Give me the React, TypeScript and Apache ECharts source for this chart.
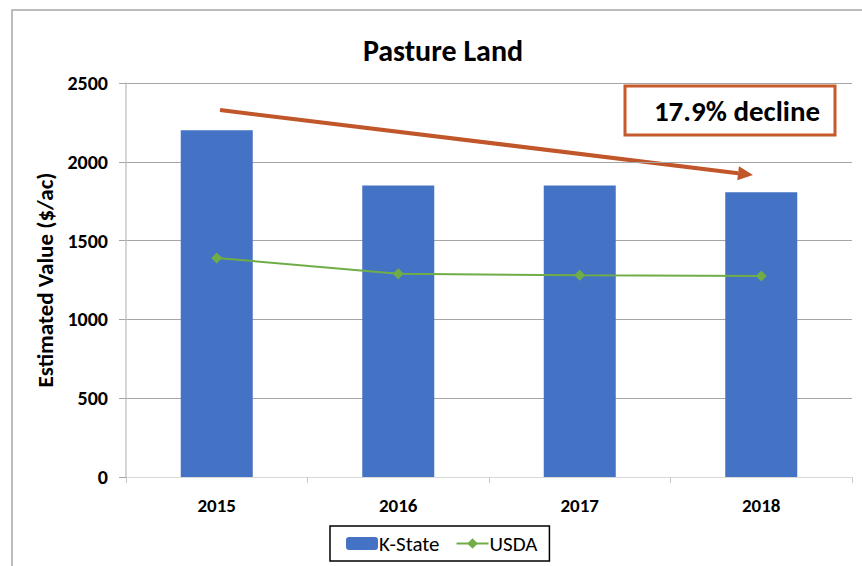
import React, { useEffect, useRef } from "react";
import * as echarts from "echarts";

const categories = ["2015", "2016", "2017", "2018"];
const kStateValues = [2200, 1850, 1850, 1806];
const usdaValues = [1390, 1290, 1280, 1275];
const yTicks = [0, 500, 1000, 1500, 2000, 2500];

const FONT = "Carlito, 'Liberation Sans Narrow', 'Open Sans', sans-serif";

export default function App() {
  const ref = useRef<HTMLDivElement>(null);
  useEffect(() => {
    if (!ref.current) return;
    const chart = echarts.init(ref.current, null, { renderer: "svg" });
    const sx = 220, sy = 110, tx = 753, ty = 175;
    const dx = tx - sx, dy = ty - sy;
    const len = Math.sqrt(dx * dx + dy * dy);
    const ux = dx / len, uy = dy / len;
    const nx = -uy, ny = ux;
    const headL = 15, headW = 7;
    const bx = tx - headL * ux, by = ty - headL * uy;
    chart.setOption({
      animation: false,
      backgroundColor: "#ffffff",
      title: {
        text: "Pasture Land",
        left: 438,
        top: 30,
        textAlign: "center",
        textStyle: { fontFamily: FONT, fontSize: 30, fontWeight: "bold", color: "#000" },
      },
      grid: { left: 126, right: 10, top: 83, bottom: 89, containLabel: false },
      legend: {
        bottom: 5,
        left: 330,
        data: ["K-State", "USDA"],
        borderColor: "#000",
        borderWidth: 1.5,
        padding: [7, 12, 7, 16],
        itemGap: 16,
        itemWidth: 32,
        itemHeight: 13,
        textStyle: { fontFamily: FONT, fontSize: 21, color: "#000", padding: [0, 0, 0, -4] },
      },
      xAxis: {
        type: "category",
        data: categories,
        axisLine: { show: true, lineStyle: { color: "#d9d9d9", width: 1 } },
        axisTick: { show: true, alignWithLabel: false, length: 6, lineStyle: { color: "#c8c8c8" } },
        axisLabel: { fontFamily: FONT, fontSize: 19, fontWeight: "bold", color: "#000", margin: 19 },
      },
      yAxis: {
        type: "value",
        min: 0,
        max: yTicks[yTicks.length - 1],
        interval: 500,
        name: "Estimated Value ($/ac)",
        nameLocation: "middle",
        nameGap: 64,
        nameTextStyle: { fontFamily: FONT, fontSize: 23, fontWeight: "bold", color: "#000" },
        axisLine: { show: true, lineStyle: { color: "#c8c8c8", width: 1.5 } },
        axisTick: { show: true, length: 7, lineStyle: { color: "#a6a6a6" } },
        splitLine: { show: true, lineStyle: { color: "#a6a6a6", width: 1 } },
        axisLabel: {
          fontFamily: FONT,
          fontSize: 20,
          fontWeight: "bold",
          color: "#000",
          margin: 18,
          formatter: (v: number) => String(v),
        },
      },
      series: [
        {
          name: "K-State",
          type: "bar",
          data: kStateValues,
          barWidth: 72,
          itemStyle: { color: "#4472C4" },
        },
        {
          name: "USDA",
          type: "line",
          data: usdaValues,
          symbol: "diamond",
          symbolSize: 11,
          lineStyle: { color: "#70AD47", width: 2 },
          itemStyle: { color: "#70AD47" },
        },
      ],
      graphic: [
        {
          type: "rect",
          shape: { x: 12, y: 10, width: 900, height: 600 },
          style: { fill: "none", stroke: "#a6a6a6", lineWidth: 1.5 },
          silent: true,
        },
        {
          type: "line",
          shape: { x1: sx, y1: sy, x2: bx, y2: by },
          style: { stroke: "#C0562A", lineWidth: 4 },
        },
        {
          type: "polygon",
          shape: {
            points: [
              [tx, ty],
              [bx + headW * nx, by + headW * ny],
              [bx - headW * nx, by - headW * ny],
            ],
          },
          style: { fill: "#C0562A" },
        },
        {
          type: "rect",
          shape: { x: 625, y: 86, width: 210, height: 49 },
          style: { fill: "#fff", stroke: "#C55A2B", lineWidth: 3 },
        },
        {
          type: "text",
          x: 737,
          y: 111,
          style: {
            text: "17.9% decline",
            fontFamily: FONT,
            fontSize: 29,
            fontWeight: "bold",
            fill: "#000",
            align: "center",
            verticalAlign: "middle",
          },
        },
      ],
    });
    return () => chart.dispose();
  }, []);
  return (
    <div style={{ position: "fixed", left: 0, top: 0, width: 862, height: 566, background: "#fff" }}>
      <div ref={ref} style={{ width: 862, height: 566 }} />
    </div>
  );
}
